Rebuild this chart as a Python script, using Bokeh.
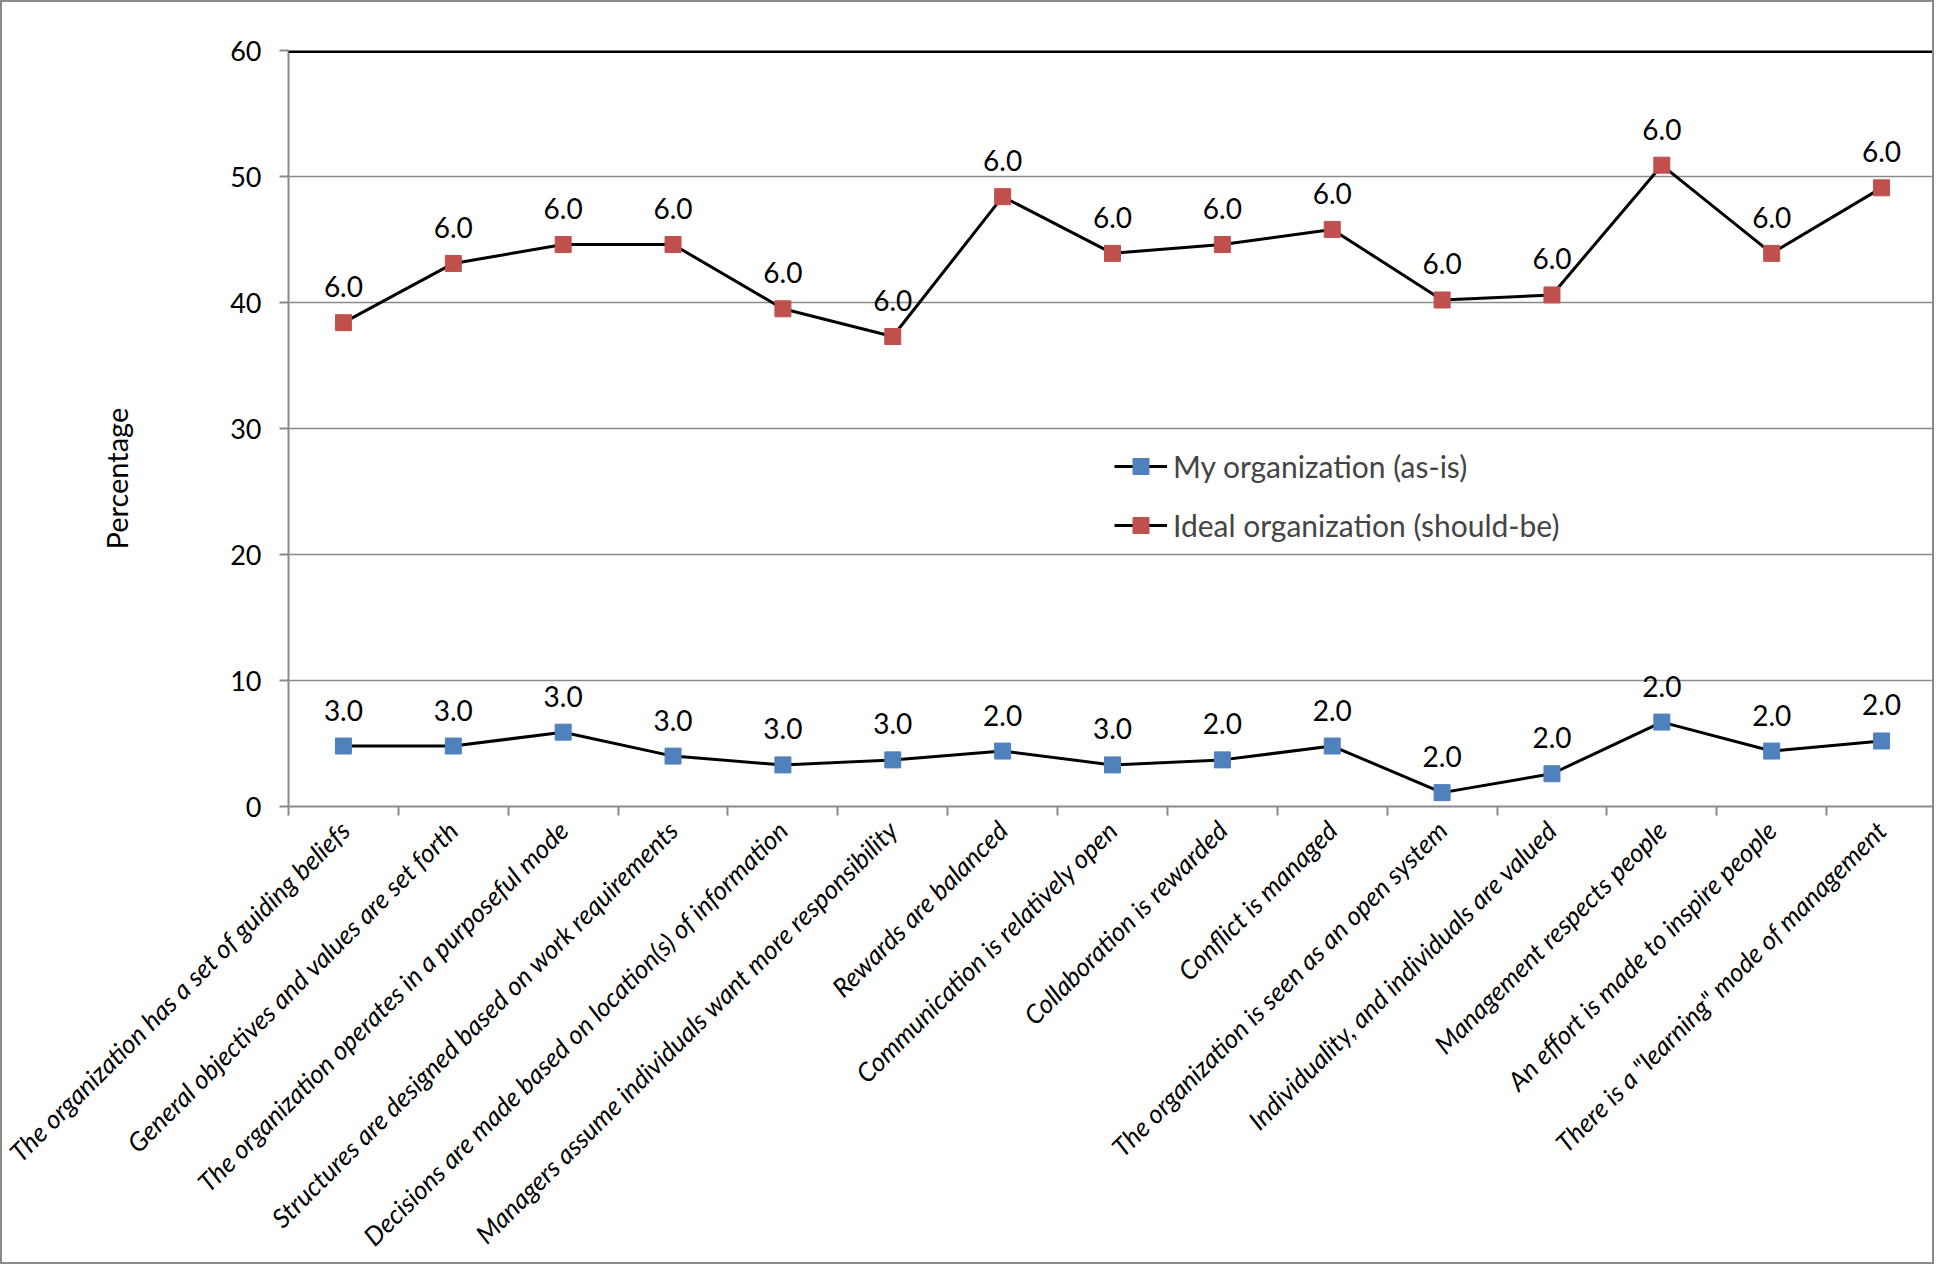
import math
from bokeh.plotting import figure
from bokeh.models import (Range1d, FixedTicker, CustomJSTickFormatter, ColumnDataSource,
                          LabelSet, Legend, LegendItem, Span, Title)
from bokeh.core.properties import value
from bokeh.embed import file_html
from bokeh.resources import INLINE

categories = [
    "The organization has a set of guiding beliefs",
    "General objectives and values are set forth",
    "The organization operates in a purposeful mode",
    "Structures are designed based on work requirements",
    "Decisions are made based on location(s) of information",
    "Managers assume individuals want more responsibility",
    "Rewards are balanced",
    "Communication is relatively open",
    "Collaboration is rewarded",
    "Conflict is managed",
    "The organization is seen as an open system",
    "Individuality, and individuals are valued",
    "Management respects people",
    "An effort is made to inspire people",
    'There is a "learning" mode of management',
]
my_org = [4.8, 4.8, 5.9, 4.0, 3.3, 3.7, 4.4, 3.3, 3.7, 4.8, 1.1, 2.6, 6.7, 4.4, 5.2]
ideal_org = [38.4, 43.1, 44.6, 44.6, 39.5, 37.3, 48.4, 43.9, 44.6, 45.8, 40.2, 40.6, 50.9, 43.9, 49.1]
my_labels = ["3.0", "3.0", "3.0", "3.0", "3.0", "3.0", "2.0", "3.0", "2.0", "2.0",
             "2.0", "2.0", "2.0", "2.0", "2.0"]
ideal_labels = ["6.0"] * 15
y_ticks = [0, 10, 20, 30, 40, 50, 60]
series_names = ["My organization (as-is)", "Ideal organization (should-be)"]
y_title = "Percentage"

FONT = "Lato"
GRAY = "#8a8a8a"

n = len(categories)
centers = [i + 0.5 for i in range(n)]
bounds = [i for i in range(n + 1)]

p = figure(width=1934, height=1264, output_backend="svg", toolbar_location=None,
           x_range=Range1d(0, n), y_range=Range1d(y_ticks[0], y_ticks[-1]),
           min_border_left=286, min_border_right=0, min_border_top=48, min_border_bottom=455)
p.outline_line_color = None
p.background_fill_color = "white"
p.border_fill_color = "white"
p.styles = {"border": "2px solid #8a8a8a"}

# y axis
ya = p.yaxis[0]
ya.ticker = FixedTicker(ticks=y_ticks)
ya.axis_line_color = GRAY
ya.axis_line_width = 2
ya.major_tick_out = 9
ya.major_tick_in = 0
ya.major_tick_line_color = GRAY
ya.major_tick_line_width = 2
ya.minor_tick_line_color = None
ya.major_label_text_font = FONT
ya.major_label_text_font_size = "27px"
ya.major_label_text_color = "black"
ya.major_label_standoff = 18

# y axis title (Excel places it somewhat below the plot-area centre)
p.add_layout(Title(text=y_title, align="left", offset=257, vertical_align="middle",
                   standoff=185, text_font=FONT, text_font_size="29px",
                   text_font_style="normal", text_color="black"), "left")

# x axis
xa = p.xaxis[0]
xa.ticker = FixedTicker(ticks=centers, minor_ticks=bounds)
xa.formatter = CustomJSTickFormatter(args=dict(labels=categories), code="""
    const i = Math.round(tick - 0.5);
    return (i >= 0 && i < labels.length) ? labels[i] : '';
""")
xa.axis_line_color = GRAY
xa.axis_line_width = 2
xa.major_tick_out = 0
xa.major_tick_in = 0
xa.major_tick_line_color = None
xa.minor_tick_out = 9
xa.minor_tick_in = 0
xa.minor_tick_line_color = GRAY
xa.minor_tick_line_width = 2
xa.major_label_orientation = math.pi / 4
xa.major_label_text_font = FONT
xa.major_label_text_font_size = "26px"
xa.major_label_text_font_style = "italic"
xa.major_label_text_color = "black"
xa.major_label_standoff = 10

p.xgrid.grid_line_color = None
p.ygrid.ticker = FixedTicker(ticks=y_ticks)
p.ygrid.grid_line_color = GRAY
p.ygrid.grid_line_width = 1.5

p.add_layout(Span(location=y_ticks[-1], dimension="width", line_color="black", line_width=5))

src_my = ColumnDataSource(dict(x=centers, y=my_org, lab=my_labels))
src_ideal = ColumnDataSource(dict(x=centers, y=ideal_org, lab=ideal_labels))

l1 = p.line("x", "y", source=src_my, line_color="black", line_width=3)
s1 = p.scatter("x", "y", source=src_my, marker="square", size=16,
               fill_color="#4F81BD", line_color="#4F81BD")
l2 = p.line("x", "y", source=src_ideal, line_color="black", line_width=3)
s2 = p.scatter("x", "y", source=src_ideal, marker="square", size=16,
               fill_color="#C0504D", line_color="#C0504D")

for src in (src_my, src_ideal):
    p.add_layout(LabelSet(x="x", y="y", text="lab", source=src, y_offset=36,
                          text_align="center", text_baseline="middle",
                          text_font=value(FONT), text_font_size=value("28px"),
                          text_color="black"))

legend = Legend(items=[LegendItem(label=series_names[0], renderers=[l1, s1]),
                       LegendItem(label=series_names[1], renderers=[l2, s2])],
                location=(826, 261), orientation="vertical",
                border_line_color=None, background_fill_alpha=0,
                label_text_font=FONT, label_text_font_size="30px",
                glyph_width=53, glyph_height=40, label_height=40, spacing=19,
                padding=0, margin=0, label_standoff=6)
p.add_layout(legend)

open("out.html", "w").write(file_html(p, INLINE))
